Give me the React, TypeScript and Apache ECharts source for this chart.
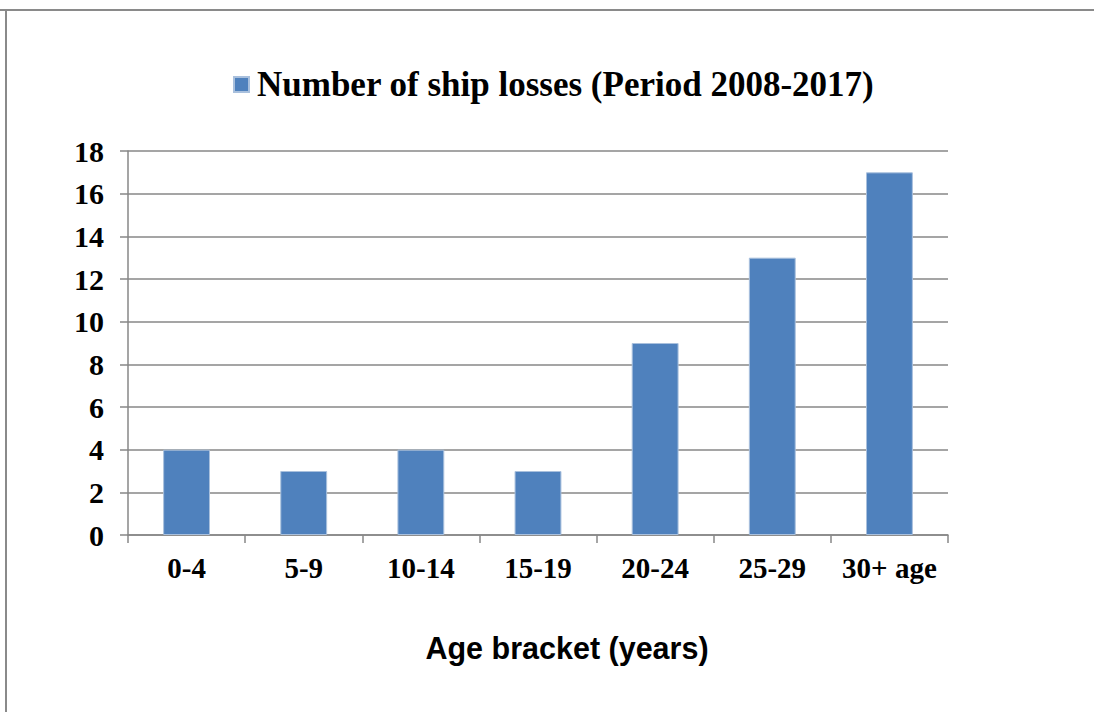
import React, { useEffect, useRef } from "react";
import * as echarts from "echarts";

const categories = ["0-4", "5-9", "10-14", "15-19", "20-24", "25-29", "30+ age"];
const losses = [4, 3, 4, 3, 9, 13, 17];
const seriesName = "Number of ship losses (Period 2008-2017)";
const xAxisTitle = "Age bracket (years)";

const SERIF = "'Liberation Serif', 'Times New Roman', serif";
const SANS = "'Liberation Sans', Arial, sans-serif";

export default function App() {
  const ref = useRef<HTMLDivElement>(null);
  useEffect(() => {
    if (!ref.current) return;
    const chart = echarts.init(ref.current, null, { renderer: "svg" });
    chart.setOption({
      animation: false,
      backgroundColor: "#ffffff",
      legend: {
        data: [seriesName],
        left: 228,
        top: 62,
        icon: "rect",
        itemWidth: 15,
        itemHeight: 15,
        textStyle: {
          fontFamily: SERIF,
          fontWeight: "bold",
          fontSize: 35,
          color: "#000",
          padding: [0, 0, 0, 3],
        },
      },
      grid: { left: 128, right: 146, top: 151, bottom: 177, containLabel: false },
      xAxis: {
        type: "category",
        data: categories,
        axisLine: { lineStyle: { color: "#878787", width: 1.5 } },
        axisTick: { show: true, length: 8, interval: 0, lineStyle: { color: "#878787", width: 1.5 } },
        axisLabel: {
          interval: 0,
          margin: 18,
          fontFamily: SERIF,
          fontWeight: "bold",
          fontSize: 29,
          color: "#000",
        },
      },
      yAxis: {
        type: "value",
        min: 0,
        max: 18,
        interval: 2,
        axisLine: { show: true, lineStyle: { color: "#878787", width: 1.5 } },
        axisTick: { show: true, length: 8, lineStyle: { color: "#878787", width: 1.5 } },
        splitLine: { show: true, lineStyle: { color: "#878787", width: 1.5 } },
        axisLabel: {
          margin: 24,
          fontFamily: SERIF,
          fontWeight: "bold",
          fontSize: 30,
          color: "#000",
        },
      },
      series: [
        {
          name: seriesName,
          type: "bar",
          data: losses,
          barWidth: "40%",
          itemStyle: { color: "#4F81BD", borderColor: "#A9C0DD", borderWidth: 1 },
        },
      ],
      graphic: [
        {
          type: "line",
          shape: { x1: 0, y1: 10, x2: 1094, y2: 10 },
          style: { stroke: "#8a8a8a", lineWidth: 2 },
        },
        {
          type: "line",
          shape: { x1: 6, y1: 10, x2: 6, y2: 712 },
          style: { stroke: "#8a8a8a", lineWidth: 2 },
        },
        {
          type: "text",
          x: 567,
          y: 648,
          style: {
            text: xAxisTitle,
            fontFamily: SANS,
            fontWeight: "bold",
            fontSize: 30.5,
            fill: "#000",
            textAlign: "center",
            textVerticalAlign: "middle",
          },
        },
      ],
    });
    return () => chart.dispose();
  }, []);
  return (
    <div
      ref={ref}
      style={{ position: "fixed", left: 0, top: 0, width: 1094, height: 712 }}
    />
  );
}
